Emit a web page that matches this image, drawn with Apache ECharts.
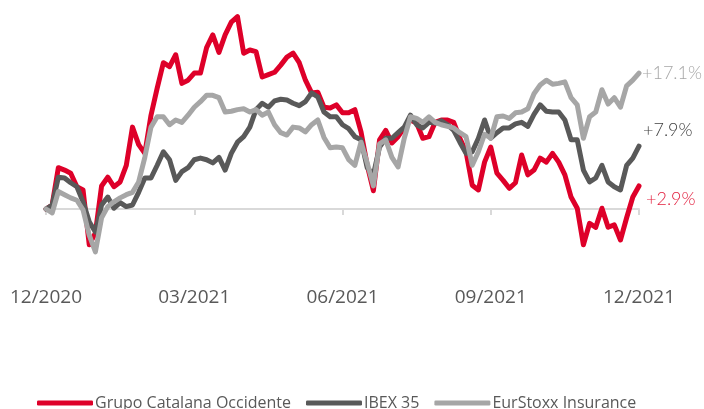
<!DOCTYPE html>
<html>
<head>
<meta charset="utf-8">
<script src="https://cdn.jsdelivr.net/npm/echarts@6/dist/echarts.min.js"></script>
<style>
html,body{margin:0;padding:0;background:#fff;}
#chart{width:704px;height:409px;}
</style>
</head>
<body>
<div id="chart"></div>
<script>
const tickLabels = ['12/2020', '03/2021', '06/2021', '09/2021', '12/2021'];
const seriesNames = ['Grupo Catalana Occidente', 'IBEX 35', 'EurStoxx Insurance'];
const endLabels = ['+2.9%', '+7.9%', '+17.1%'];

// % change since 12/2020, ~97 samples across the year
const gco = [0, 0.5, 5.2, 4.9, 4.5, 2.8, 2.4, -4.5, -3.0, 2.9, 4.0, 2.8, 3.4, 5.5, 10.3, 8.1, 7.0, 11.8, 15.2, 18.4,
  17.9, 19.4, 15.8, 16.2, 17.1, 17.1, 20.3, 21.9, 19.7, 21.9, 23.5, 24.2, 19.6, 20.0, 19.8, 16.6, 16.9, 17.2, 18.1, 19.1,
  19.6, 18.4, 16.2, 14.6, 14.7, 12.8, 12.7, 13.1, 12.1, 12.1, 12.5, 9.7, 5.5, 2.3, 8.7, 9.9, 8.3, 9.1, 10.2, 11.2,
  10.8, 8.9, 9.1, 10.9, 11.2, 11.2, 10.9, 8.9, 7.2, 3.0, 2.4, 5.9, 7.8, 4.5, 3.6, 2.6, 3.3, 6.8, 4.3, 4.9,
  6.4, 5.9, 7.0, 5.9, 4.3, 1.5, 0.1, -4.5, -1.8, -2.3, 0.1, -2.3, -2.0, -3.9, -1.1, 1.5, 2.9];
const ibex = [0, 0.5, 4.0, 3.9, 3.3, 2.8, 0.9, -1.6, -2.9, 0.5, 1.5, 0.1, 0.8, 0.3, 0.5, 2.1, 3.9, 3.9, 5.5, 7.2,
  6.2, 3.6, 4.7, 5.2, 6.2, 6.4, 6.2, 5.8, 6.5, 4.9, 7.0, 8.4, 9.1, 10.3, 12.5, 13.3, 12.8, 13.6, 13.8, 13.7,
  13.3, 13.0, 13.5, 14.6, 14.1, 12.2, 11.6, 11.6, 10.6, 10.1, 9.1, 8.7, 5.2, 4.3, 7.8, 8.9, 8.9, 9.6, 10.3, 11.8,
  10.6, 10.2, 10.9, 10.8, 11.1, 10.6, 9.9, 8.4, 7.0, 7.2, 8.9, 11.2, 8.9, 9.6, 10.2, 10.2, 10.7, 10.9, 10.4, 11.9,
  13.1, 12.3, 12.2, 12.2, 11.2, 8.7, 8.7, 4.9, 3.4, 3.9, 5.5, 3.4, 2.8, 2.4, 5.5, 6.4, 7.9];
const eurstoxx = [0, -0.5, 2.2, 1.8, 1.4, 1.1, -0.1, -3.3, -5.4, -1.1, 0.3, 0.9, 1.4, 1.8, 2.1, 3.4, 6.5, 10.3, 11.6, 11.6,
  10.6, 11.2, 10.9, 11.8, 12.8, 13.5, 14.3, 14.3, 14.0, 12.2, 12.3, 12.5, 12.6, 12.2, 12.5, 11.8, 12.2, 10.6, 9.6, 9.3,
  10.3, 10.2, 9.7, 10.6, 11.2, 9.0, 7.7, 7.8, 7.7, 6.2, 5.5, 8.4, 5.8, 2.9, 8.2, 8.7, 6.5, 5.3, 8.9, 11.6,
  11.4, 10.9, 11.6, 10.9, 10.6, 10.4, 10.2, 9.6, 9.1, 5.5, 7.2, 9.4, 8.9, 11.6, 11.7, 11.4, 12.1, 12.2, 12.6, 14.5,
  15.6, 16.2, 15.7, 15.8, 16.0, 14.0, 13.1, 8.9, 11.6, 12.2, 15.0, 13.2, 14.0, 12.8, 15.5, 16.2, 17.1];

const colors = ['#DE0029', '#595959', '#A6A6A6'];
const labelColors = ['#E2203F', '#404040', '#A6A6A6'];
const labelOffsets = [[7, 13], [4, -16], [3, 0]];
const dataSets = [gco, ibex, eurstoxx];
const lastIdx = gco.length - 1;

const chart = echarts.init(document.getElementById('chart'), null, {renderer: 'canvas'});
const series = dataSets.map((arr, k) => ({
  name: seriesNames[k],
  type: 'line',
  xAxisIndex: 0,
  yAxisIndex: 0,
  data: arr.map((v, i) => [i, v]),
  showSymbol: false,
  symbol: 'none',
  smooth: false,
  z: 2 + k,
  color: colors[k],
  lineStyle: {color: colors[k], width: 5, cap: 'round', join: 'round'},
  itemStyle: {color: colors[k]},
  emphasis: {disabled: true},
  endLabel: {
    show: true,
    formatter: endLabels[k],
    color: labelColors[k],
    fontFamily: 'Lato',
    fontWeight: 300,
    fontSize: 18,
    distance: 0,
    offset: labelOffsets[k]
  }
}));

chart.setOption({
  animation: false,
  backgroundColor: '#ffffff',
  grid: {left: 46, right: 65, top: 10.25, bottom: 136.4, containLabel: false},
  xAxis: [
    {
      type: 'value', min: 0, max: lastIdx, interval: 24, position: 'bottom',
      axisLine: {show: false, onZero: false},
      axisTick: {show: false},
      splitLine: {show: false},
      axisLabel: {
        show: true, margin: 15, color: '#595959', fontSize: 19, fontFamily: 'Open Sans',
        showMinLabel: true, showMaxLabel: true, hideOverlap: false,
        formatter: v => tickLabels[Math.round(v / 24)]
      }
    },
    {
      type: 'value', min: 0, max: lastIdx, interval: 24, position: 'bottom',
      axisLine: {show: true, onZero: true, lineStyle: {color: '#D9D9D9', width: 2}},
      axisTick: {show: true, length: 6, lineStyle: {color: '#D9D9D9', width: 2}},
      splitLine: {show: false},
      axisLabel: {show: false}
    }
  ],
  yAxis: {
    type: 'value', min: -8, max: 25, show: false,
    splitLine: {show: false}
  },
  legend: {
    show: true,
    left: 32, top: 390,
    orient: 'horizontal',
    icon: 'roundRect',
    itemWidth: 56, itemHeight: 5,
    itemGap: 15,
    data: seriesNames,
    textStyle: {color: '#595959', fontSize: 16, fontFamily: 'Open Sans', padding: [0, 0, 0, -3]}
  },
  series: series
});
</script>
</body>
</html>
